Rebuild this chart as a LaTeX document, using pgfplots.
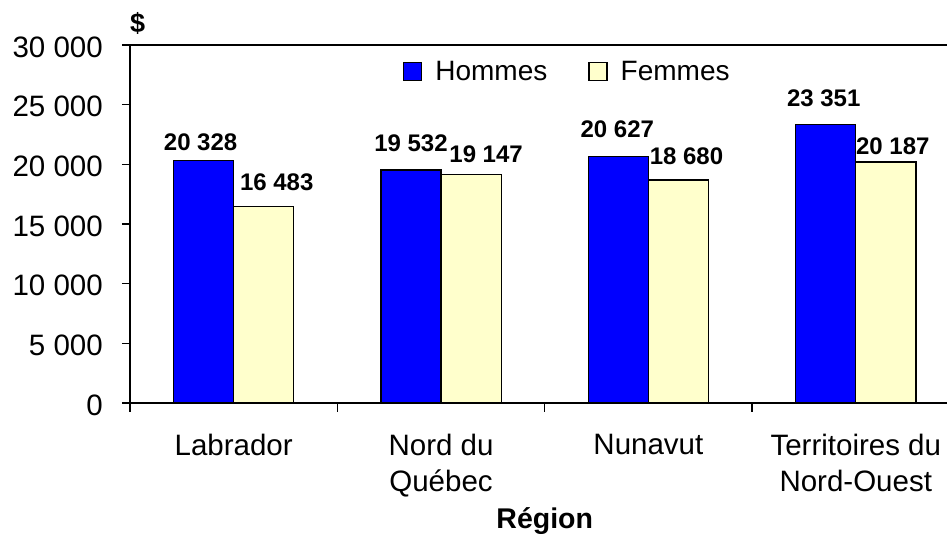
\documentclass[border=0pt]{standalone}
\usepackage{pgfplots}
\usepackage{pgfplotstable}
\pgfplotsset{compat=1.18}
\usepackage{fontspec}
\setmainfont{Liberation Sans}
\definecolor{hom}{HTML}{0000FF}
\definecolor{fem}{HTML}{FFFFCC}

\pgfplotstableread{
x y dx dy
0 20328 -3 9
1 19532 0 17
2 20627 -1 18
3 23351 -2 17
}\hommes
\pgfplotstableread{
x y dx dy
0 16483 13 15
1 19147 15 11
2 18680 8 15
3 20187 7 7
}\femmes

\pgfkeys{/pgf/number format/.cd, 1000 sep={\ }, assume math mode=true}

\begin{document}
\begin{tikzpicture}
\useasboundingbox (-130pt,-134pt) rectangle (817pt,403pt);
\begin{axis}[
  at={(0pt,0pt)}, anchor=south west,
  scale only axis, width=817pt, height=358pt,
  clip=false,
  xmin=-0.5, xmax=3.44, ymin=0, ymax=30000,
  axis x line*=bottom, axis y line*=left,
  axis line style={line width=1.5pt, black, -},
  ybar, bar width=0.29,
  xtick={0,1,2,3},
  xticklabels={Labrador, Nord du\\Québec, Nunavut, Territoires du\\Nord-Ouest},
  minor xtick={-0.5,0.5,1.5,2.5},
  ytick={0,5000,10000,15000,20000,25000,30000},
  tick align=outside,
  major tick length=8pt,
  minor tick length=9pt,
  tick style={black, line width=1.5pt},
  major x tick style={draw=none},
  scaled y ticks=false,
  /pgf/number format/1000 sep={\ },
  /pgf/number format/assume math mode=true,
  yticklabel style={font=\fontsize{29.5}{34}\selectfont, inner sep=0pt, anchor=east, xshift=-19pt, yshift=-2pt},
  xticklabel style={font=\fontsize{29.5}{36}\selectfont, align=center, anchor=north, inner sep=0pt, yshift=-23pt},
  legend style={at={(0.334,0.925)}, anchor=west, draw=none, fill=none,
    font=\fontsize{28}{32}\selectfont, inner sep=0pt,
    /tikz/every odd column/.append style={column sep=11pt},
    /tikz/every even column/.append style={column sep=39pt}},
  legend columns=2,
]
\addplot[fill=hom, draw=black, line width=1.3pt, bar shift=-0.145,
  legend image code/.code={\draw[fill=hom, draw=black, line width=1.3pt] (0pt,-9pt) rectangle (18pt,9pt);},
  visualization depends on={\thisrow{dx}\as\dx},
  visualization depends on={\thisrow{dy}\as\dy},
  nodes near coords={\pgfmathprintnumber{\pgfplotspointmeta}},
  every node near coord/.append style={font=\bfseries\fontsize{24}{28}\selectfont, anchor=south, inner sep=0pt, xshift=\dx pt, yshift=\dy pt, text=black},
] table[x=x,y=y]{\hommes};
\addlegendentry{Hommes}
\addplot[fill=fem, draw=black, line width=1.3pt, bar shift=0.145,
  legend image code/.code={\draw[fill=fem, draw=black, line width=1.3pt] (0pt,-9pt) rectangle (18pt,9pt);},
  visualization depends on={\thisrow{dx}\as\dx},
  visualization depends on={\thisrow{dy}\as\dy},
  nodes near coords={\pgfmathprintnumber{\pgfplotspointmeta}},
  every node near coord/.append style={font=\bfseries\fontsize{24}{28}\selectfont, anchor=south, inner sep=0pt, xshift=\dx pt, yshift=\dy pt, text=black},
] table[x=x,y=y]{\femmes};
\addlegendentry{Femmes}
\draw[line width=1.5pt] (rel axis cs:0,1) -- (rel axis cs:1,1);
\node[anchor=base west, font=\bfseries\fontsize{27}{32}\selectfont, inner sep=0pt] at (rel axis cs:0,1) [xshift=0pt, yshift=12pt] {\$};
\node[anchor=base, font=\bfseries\fontsize{28.5}{34}\selectfont, inner sep=0pt] at (axis cs:1.5,0) [yshift=-125pt] {Région};
\end{axis}
\end{tikzpicture}
\end{document}
